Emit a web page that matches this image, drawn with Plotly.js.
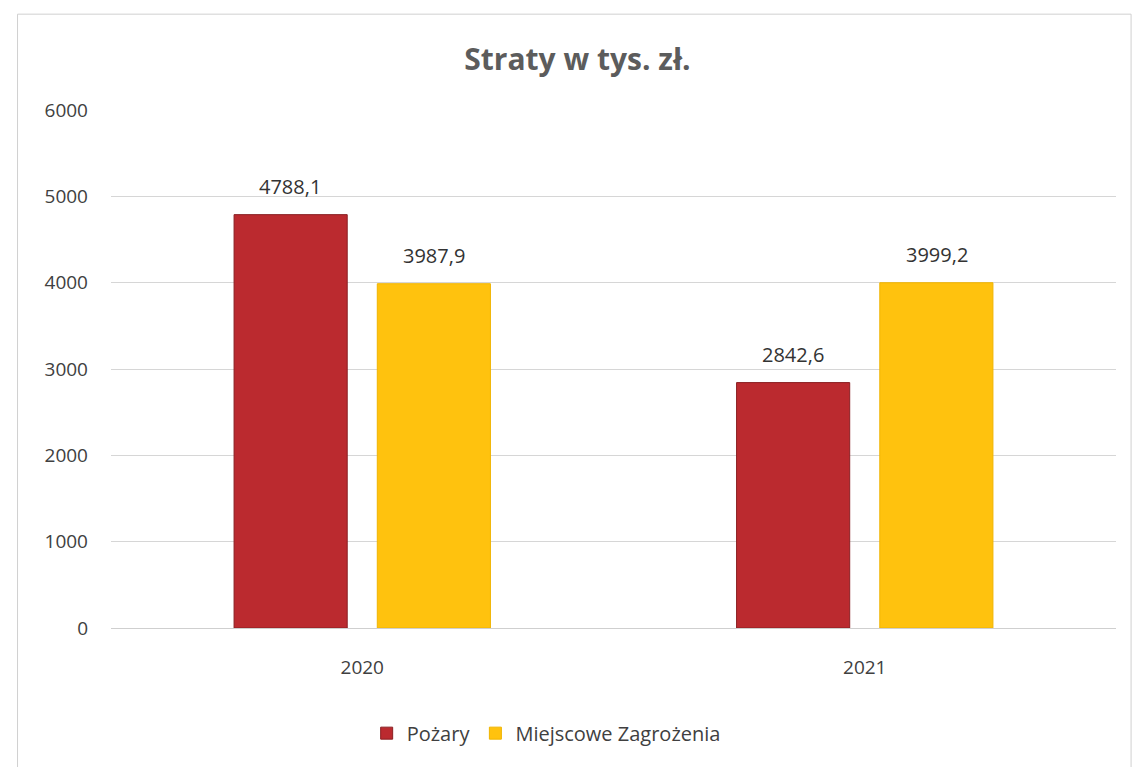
<!DOCTYPE html>
<html>
<head>
<meta charset="utf-8">
<script src="https://cdn.plot.ly/plotly-3.0.1.min.js"></script>
<style>html,body{margin:0;padding:0;background:#fff;}#chart{width:1139px;height:767px;}</style>
</head>
<body>
<div id="chart"></div>
<script>
const categories = ["2020", "2021"];
const pozary = [4788.1, 2842.6];
const miejscowe = [3987.9, 3999.2];
const seriesNames = ["Pożary", "Miejscowe Zagrożenia"];
const yTicks = [0, 1000, 2000, 3000, 4000, 5000, 6000];

const font = "Open Sans, Noto Sans, sans-serif";
const fmt = v => v.toFixed(1).replace(".", ",");
const traces = [
  {
    type: "bar", name: seriesNames[0], x: categories, y: pozary,
    marker: {color: "#bb2a2f", line: {color: "#8a1f22", width: 1}}, hoverinfo: "none"
  },
  {
    type: "bar", name: seriesNames[1], x: categories, y: miejscowe,
    marker: {color: "#ffc20e", line: {color: "#f0b400", width: 1}}, hoverinfo: "none"
  }
];
const annotations = [];
[pozary, miejscowe].forEach((series, si) => {
  series.forEach((v, i) => {
    annotations.push({
      x: i, y: v, xref: "x", yref: "y", text: fmt(v), showarrow: false,
      xshift: si === 0 ? -72 : 72, yshift: 13, yanchor: "bottom",
      font: {family: font, size: 20, color: "#333333"}
    });
  });
});
const layout = {
  width: 1139, height: 767,
  paper_bgcolor: "#ffffff", plot_bgcolor: "#ffffff",
  margin: {l: 111, r: 23, t: 110, b: 139},
  title: {text: "<b>Straty w tys. zł.</b>", x: 0.507, xanchor: "center", y: 0.922, yanchor: "middle",
          font: {family: font, size: 30, color: "#5c5c5c"}},
  barmode: "group", bargap: 0.43, bargroupgap: 0.21,
  xaxis: {type: "category", range: [-0.5, 1.5], showgrid: false, zeroline: false, showline: false,
          ticks: "", ticklabelstandoff: 26,
          tickfont: {family: font, size: 19, color: "#404040"}},
  yaxis: {range: [0, 6000], tickvals: yTicks, ticktext: yTicks.map(String),
          showgrid: true, gridcolor: "#d6d6d6", gridwidth: 1,
          zeroline: true, zerolinecolor: "#cfcfcf", zerolinewidth: 1,
          showline: false, ticks: "", ticklabelstandoff: 22,
          tickfont: {family: font, size: 19, color: "#404040"}},
  showlegend: true,
  legend: {orientation: "h", x: 0.433, xanchor: "center", y: -0.203, yanchor: "middle",
           font: {family: font, size: 20, color: "#404040"}, itemwidth: 30, traceorder: "normal"},
  annotations: annotations,
  shapes: [
    {type: "rect", xref: "paper", yref: "paper", x0: -0.093, x1: 1.015, y0: -0.27, y1: 1.185,
     line: {color: "#d0d0d0", width: 1}, fillcolor: "rgba(0,0,0,0)", layer: "below"}
  ]
};
Plotly.newPlot("chart", traces, layout, {staticPlot: true, displayModeBar: false});
</script>
</body>
</html>
